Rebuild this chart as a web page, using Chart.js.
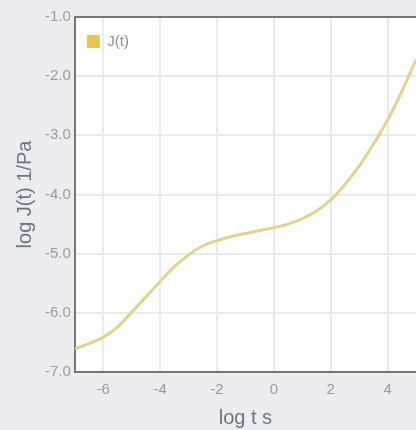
<!DOCTYPE html>
<html>
<head>
<meta charset="utf-8">
<script src="https://cdn.jsdelivr.net/npm/chart.js@4"></script>
<style>
    html, body { margin: 0; padding: 0; background: #ecedf1; }
    canvas { display: block; }
</style>
</head>
<body>
<canvas id="creepChart" width="416" height="430"></canvas>
<script>
// Creep compliance J(t), log-log
const logT = [-7, -6.5, -6, -5.5, -5, -4.5, -4, -3.5, -3, -2.5, -2, -1.5, -1, -0.5, 0, 0.5, 1, 1.5, 2, 2.5, 3, 3.5, 4, 4.5, 5];
const logJ = [-6.61, -6.52, -6.41, -6.24, -5.99, -5.73, -5.47, -5.22, -5.02, -4.87, -4.78, -4.71, -4.66, -4.61, -4.56, -4.50, -4.41, -4.28, -4.09, -3.83, -3.52, -3.15, -2.74, -2.26, -1.72];
const xTicks = [-6, -4, -2, 0, 2, 4];
const yTicks = [-7, -6, -5, -4, -3, -2, -1];

// white plot area + top frame line
const plotFrame = {
    id: 'plotFrame',
    beforeDraw(chart) {
        const { ctx, chartArea: a } = chart;
        ctx.save();
        ctx.fillStyle = '#ffffff';
        ctx.fillRect(a.left, a.top, a.right - a.left, a.bottom - a.top);
        ctx.restore();
    },
    afterDraw(chart) {
        const { ctx, chartArea: a } = chart;
        ctx.save();
        ctx.strokeStyle = '#777777';
        ctx.lineWidth = 2;
        ctx.beginPath();
        ctx.moveTo(a.left, a.top);
        ctx.lineTo(a.right, a.top);
        ctx.stroke();
        ctx.restore();
    }
};

const ctx = document.getElementById('creepChart').getContext('2d');
new Chart(ctx, {
    type: 'line',
    data: {
        datasets: [{
            label: 'J(t)',
            data: logT.map((t, i) => ({ x: t, y: logJ[i] })),
            borderColor: '#e3d18e',
            backgroundColor: '#e8c650',
            borderWidth: 3,
            pointRadius: 0,
            tension: 0.4,
            fill: false
        }]
    },
    options: {
        responsive: false,
        animation: false,
        layout: { padding: { left: 13, top: 17, right: 0, bottom: 2 } },
        plugins: {
            tooltip: { enabled: false },
            legend: {
                position: 'chartArea',
                align: 'start',
                title: {
                    display: true,
                    text: '',
                    font: { size: 10 },
                    padding: { top: 10, bottom: 0 }
                },
                labels: {
                    boxWidth: 13,
                    boxHeight: 13,
                    padding: 12,
                    color: '#8f8f8f',
                    font: { family: 'Liberation Sans', size: 15 },
                    generateLabels(chart) {
                        return Chart.defaults.plugins.legend.labels.generateLabels(chart)
                            .map(l => Object.assign(l, { lineWidth: 0 }));
                    }
                }
            }
        },
        scales: {
            x: {
                type: 'linear',
                min: -7,
                max: 5,
                afterBuildTicks: axis => { axis.ticks = xTicks.map(v => ({ value: v })); },
                ticks: {
                    color: '#999999',
                    padding: 9,
                    font: { family: 'Liberation Sans', size: 15 }
                },
                grid: { color: '#ebebeb', lineWidth: 2, drawTicks: false },
                border: { color: '#777777', width: 2 },
                title: {
                    display: true,
                    text: 'log t s',
                    color: '#6b7581',
                    padding: { top: 0, bottom: 0 },
                    font: { family: 'Liberation Sans', size: 20, lineHeight: 1 }
                }
            },
            y: {
                type: 'linear',
                min: -7,
                max: -1,
                afterBuildTicks: axis => { axis.ticks = yTicks.map(v => ({ value: v })); },
                ticks: {
                    color: '#999999',
                    padding: 4,
                    font: { family: 'Liberation Sans', size: 15 },
                    callback: v => v.toFixed(1)
                },
                grid: { color: '#ebebeb', lineWidth: 2, drawTicks: false },
                border: { color: '#777777', width: 2 },
                title: {
                    display: true,
                    text: 'log J(t) 1/Pa',
                    color: '#6b7581',
                    padding: { top: 0, bottom: 4 },
                    font: { family: 'Liberation Sans', size: 20 }
                }
            }
        }
    },
    plugins: [plotFrame]
});
</script>
</body>
</html>
